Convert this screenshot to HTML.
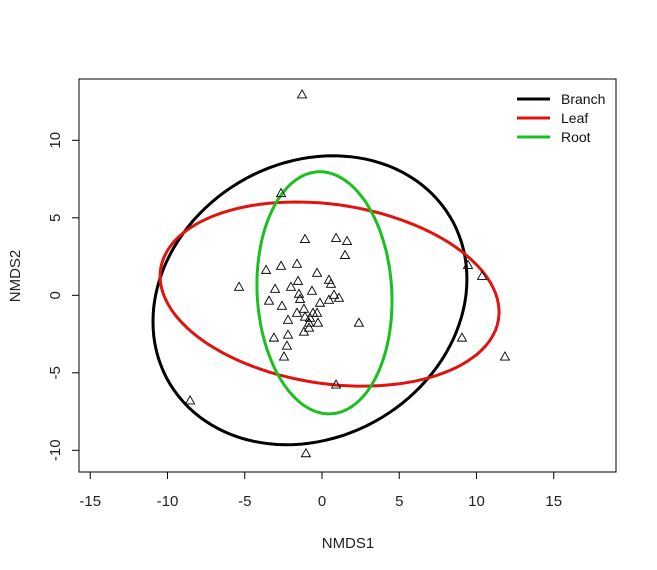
<!DOCTYPE html>
<html><head><meta charset="utf-8"><style>
html,body{margin:0;padding:0;background:#fff}
svg{display:block;font-family:"Liberation Sans",Arial,sans-serif}
</style></head><body>
<svg id="chart" width="657" height="570" viewBox="0 0 657 570">
<rect x="79" y="79" width="537" height="393" fill="none" stroke="#000" stroke-width="1"/>
<g id="axes"></g>
<g id="ellipses"></g>
<g id="points"></g>
<text x="348" y="548" font-size="15" text-anchor="middle" fill="#222">NMDS1</text>
<text x="0" y="0" font-size="15" text-anchor="middle" fill="#222" transform="translate(20,276) rotate(-90)">NMDS2</text>
<g>
<g><line x1="517" y1="99" x2="550" y2="99" stroke="#000" stroke-width="3"/><text x="561" y="104" font-size="14" fill="#111">Branch</text></g>
<g><line x1="517" y1="118" x2="550" y2="118" stroke="#e0140f" stroke-width="3"/><text x="561" y="123" font-size="14" fill="#111">Leaf</text></g>
<g><line x1="517" y1="137" x2="550" y2="137" stroke="#19c01e" stroke-width="3"/><text x="561" y="142" font-size="14" fill="#111">Root</text></g>
</g>
</svg>
<script>
const xTicks=[-15,-10,-5,0,5,10,15];
const yTicks=[-10,-5,0,5,10];
const ptX=[-2.65,-1.10,0.91,1.62,1.49,-3.62,-2.65,-1.62,-0.32,-5.37,-3.04,-1.55,-2.01,-0.65,0.45,0.58,-3.43,-2.59,-1.49,-1.42,-0.13,0.45,0.78,1.10,-1.62,-1.17,-0.58,-0.32,-1.10,-0.78,-2.20,-0.26,-0.84,-0.84,-1.17,-2.20,-3.11,2.39,-2.27,-2.46,-1.29,-8.54,-1.04,0.91,9.06,9.45,10.36,11.84];
const ptY=[6.59,3.63,3.70,3.50,2.60,1.64,1.90,2.03,1.45,0.55,0.42,0.93,0.55,0.29,1.00,0.74,-0.35,-0.68,0.10,-0.23,-0.48,-0.29,0.03,-0.16,-1.13,-0.87,-1.13,-1.13,-1.38,-1.45,-1.58,-1.77,-1.77,-2.09,-2.35,-2.54,-2.73,-1.77,-3.25,-3.95,12.96,-6.78,-10.19,-5.76,-2.73,1.96,1.25,-3.95];
const groups=["Branch","Leaf","Root"];
const grpCX=[-0.78,0.49,0.16];
const grpCY=[-0.32,0.08,0.16];
const grpSX=[10.16,10.97,4.37];
const grpSY=[9.32,5.94,7.81];
const grpCov=[14,-12.74,-2.3];
const colors=["#000","#e0140f","#19c01e"];
const NS="http://www.w3.org/2000/svg";
const X=v=>322+v*15.45;
const Y=v=>295.3-v*15.5;
const ax=document.getElementById('axes');
function mk(tag,attrs,parent){const e=document.createElementNS(NS,tag);for(const k in attrs)e.setAttribute(k,attrs[k]);parent.appendChild(e);return e;}
xTicks.forEach(t=>{
 const l=mk('line',{x1:X(t),x2:X(t),y1:472,y2:479,stroke:'#000'},ax);
 
 
 const tx=mk('text',{x:X(t),y:506,'font-size':15,'text-anchor':'middle',fill:'#222'},ax);
 tx.textContent=t;
 
 
});
yTicks.forEach(t=>{
 const l=mk('line',{x1:72,x2:79,y1:Y(t),y2:Y(t),stroke:'#000'},ax);
 
 
 const tx=mk('text',{x:0,y:0,'font-size':15,'text-anchor':'middle',fill:'#222',transform:`translate(60,${Y(t)}) rotate(-90)`},ax);
 tx.textContent=t;
 
 
});
const eg=document.getElementById('ellipses');
groups.forEach((g,i)=>{
 const sx=grpSX[i],sy=grpSY[i],c=grpCov[i];
 const l21=c/sx,l22=Math.sqrt(Math.max(sy*sy-l21*l21,0.01));
 let d='';
 for(let k=0;k<=120;k++){const t=k/120*2*Math.PI;const px=grpCX[i]+sx*Math.cos(t);const py=grpCY[i]+l21*Math.cos(t)+l22*Math.sin(t);d+=(k?'L':'M')+X(px).toFixed(1)+' '+Y(py).toFixed(1);}
 const p=mk('path',{d:d+'Z',fill:'none',stroke:colors[i],'stroke-width':3},eg);
 
 
});
const pg=document.getElementById('points');
ptX.forEach((v,i)=>{
 const cx=X(v),cy=Y(ptY[i]);
 const p=mk('polygon',{points:`${cx-4.5},${cy+3.5} ${cx+4.5},${cy+3.5} ${cx},${cy-4.5}`,fill:'none',stroke:'#000','stroke-width':0.9},pg);
 
 
});
</script>
</body></html>
